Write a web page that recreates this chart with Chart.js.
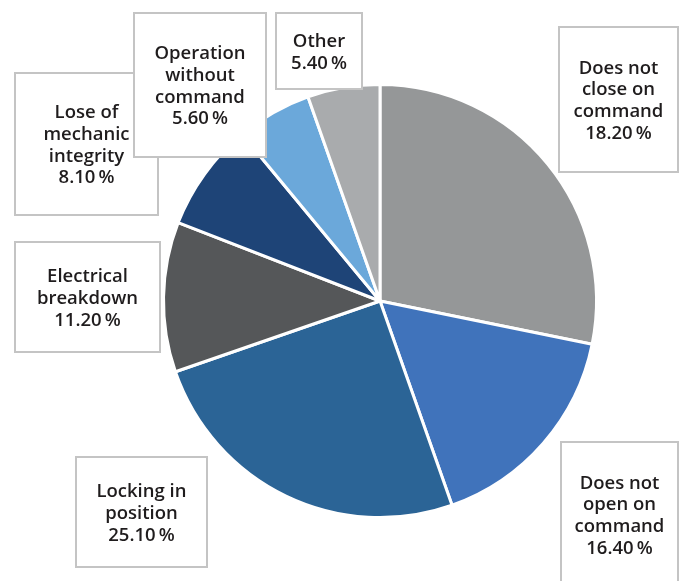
<!DOCTYPE html>
<html>
<head>
<meta charset="utf-8">
<script src="https://cdn.jsdelivr.net/npm/chart.js@4.4.1/dist/chart.umd.min.js"></script>
<style>
html,body{margin:0;padding:0;background:#ffffff;}
#wrap{width:684px;height:581px;position:relative;}
</style>
</head>
<body>
<div id="wrap"><canvas id="c" width="684" height="581"></canvas></div>
<script>
// Categories (clockwise from 12 o'clock)
const categories = [
  "Does not close on command",
  "Does not open on command",
  "Locking in position",
  "Electrical breakdown",
  "Lose of mechanic integrity",
  "Operation without command",
  "Other"
];
// Slice sizes as drawn in the picture (percent of the circle)
const sliceValues = [28.2, 16.4, 25.1, 11.2, 8.1, 5.6, 5.4];
// Percent texts printed in the label boxes
const labelPercents = ["18.20\u2009%", "16.40\u2009%", "25.10\u2009%", "11.20\u2009%", "8.10\u2009%", "5.60\u2009%", "5.40\u2009%"];
// Label box lines
const labelLines = [
  ["Does not", "close on", "command"],
  ["Does not", "open on", "command"],
  ["Locking in", "position"],
  ["Electrical", "breakdown"],
  ["Lose of", "mechanic", "integrity"],
  ["Operation", "without", "command"],
  ["Other"]
];
const sliceColors = ["#959798", "#4073bb", "#2b6496", "#555759", "#1e4477", "#6ba8da", "#a9abad"];

// Label box placement (x, y, w, h) in canvas pixels
const boxes = [
  [559, 27, 119, 145],
  [561, 442, 117, 145],
  [76, 457, 131, 110],
  [15, 242, 145, 110],
  [15, 73, 143, 142],
  [134, 13, 132, 144],
  [276, 13, 86, 76]
];

const labelBoxPlugin = {
  id: 'labelBoxes',
  afterDraw(chart) {
    const ctx = chart.ctx;
    ctx.save();
    boxes.forEach((b, i) => {
      const [x, y, w, h] = b;
      ctx.fillStyle = '#ffffff';
      ctx.fillRect(x, y, w, h);
      ctx.strokeStyle = '#c4c4c4';
      ctx.lineWidth = 2;
      ctx.strokeRect(x, y, w, h);
      const lines = labelLines[i].concat([labelPercents[i]]);
      const lh = 21.8;
      ctx.fillStyle = '#1f1c1d';
      ctx.font = '600 18.5px "Open Sans", "Noto Sans", sans-serif';
      ctx.textAlign = 'center';
      ctx.textBaseline = 'middle';
      const cx = x + w / 2;
      const cy = y + h / 2 + 1.5;
      const top = cy - (lines.length - 1) * lh / 2;
      lines.forEach((t, k) => ctx.fillText(t, cx, top + k * lh));
    });
    ctx.restore();
  }
};

new Chart(document.getElementById('c'), {
  type: 'pie',
  data: {
    labels: categories,
    datasets: [{
      data: sliceValues,
      backgroundColor: sliceColors,
      borderColor: '#ffffff',
      borderWidth: 3
    }]
  },
  options: {
    responsive: false,
    animation: false,
    rotation: 0,
    layout: { padding: { top: 83, bottom: 62, left: 162, right: 86 } },
    plugins: {
      legend: { display: false },
      tooltip: { enabled: false }
    }
  },
  plugins: [labelBoxPlugin]
});
</script>
</body>
</html>
